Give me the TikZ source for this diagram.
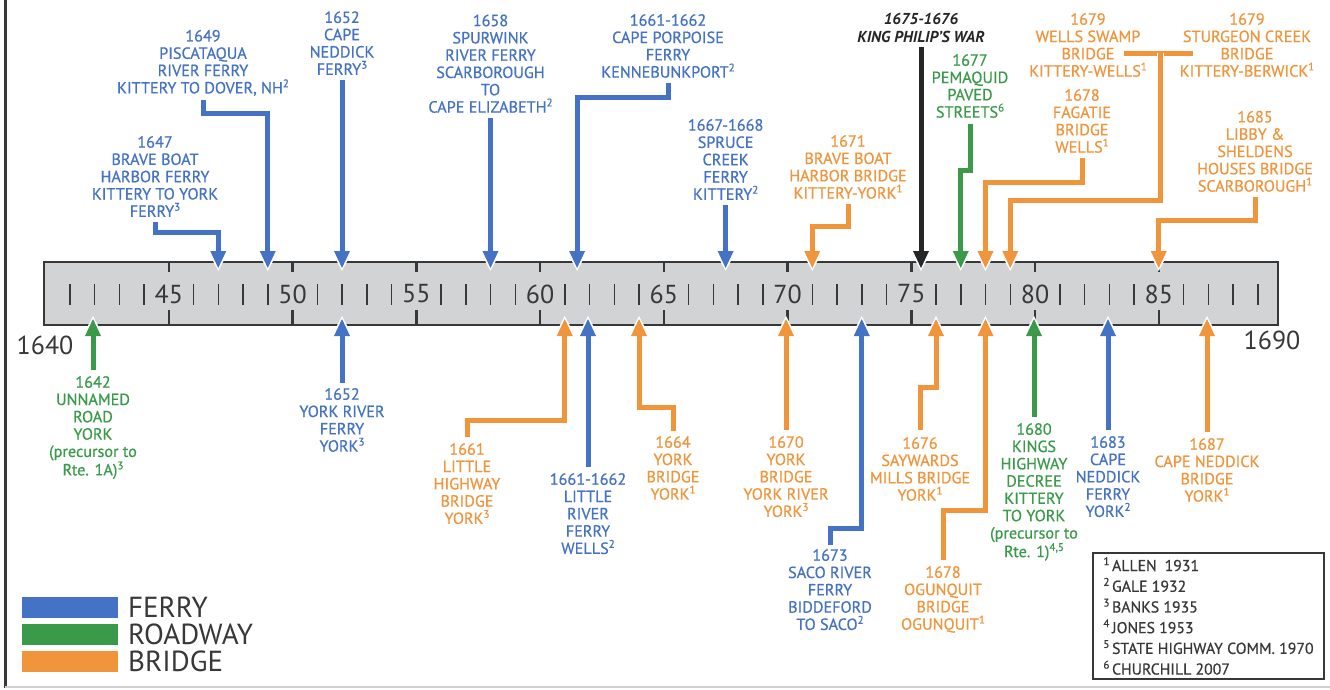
\documentclass[tikz,border=0pt]{standalone}
\usepackage{fontspec}
\setmainfont{PT Sans}
\newfontface\labface{PT Sans}[FakeBold=0.6]
\usetikzlibrary{arrows.meta}
\definecolor{fer}{HTML}{4472C4}
\definecolor{rd}{HTML}{3A9A4A}
\definecolor{brg}{HTML}{F0953B}
\definecolor{ink}{HTML}{383838}
\definecolor{barfill}{HTML}{D1D3D4}
\newcommand\fn[1]{\raisebox{0.38em}{\fontsize{11}{11}\selectfont #1}}
\begin{document}
\begin{tikzpicture}[x=1pt,y=-1pt,
  lab/.style={align=center, inner sep=0pt, font=\labface\fontsize{16.2}{17.3}\selectfont},
  ln/.style={line width=5pt, line join=miter},
  conn/.style={ln, -{Triangle[length=17pt,width=16pt,line width=0pt]},
    preaction={draw=white, line width=7pt, shorten >=-3pt, -{Triangle[length=20pt,width=21pt,line width=0pt]}}},
  big/.style={font=\fontsize{26}{26}\selectfont, text=ink, inner sep=0pt},
  leg/.style={font=\fontsize{29}{29}\selectfont, text=ink, inner sep=0pt, anchor=west},
  key/.style={minimum width=96pt, minimum height=21pt, inner sep=0pt, anchor=north west}
]
\useasboundingbox (0,0) rectangle (1330,689);
\fill[white] (0,0) rectangle (1330,689);
% frame
\draw[ink, line width=3pt] (5,0) -- (5,688);
\draw[black!18, line width=1.5pt] (5,687) -- (1330,687);

% timeline bar
\node[draw=ink, fill=barfill, line width=2.5pt, anchor=north west, minimum width=1234pt, minimum height=63pt, inner sep=0pt, outer sep=0pt] (bar) at (44,262) {};
\foreach \yr/\lb in {5/45,10/50,15/55,20/60,25/65,30/70,35/75,40/80,45/85}{
  \draw[ink, line width=2.5pt] ({45+24.75*\yr},262) -- ++(0,10);
  \draw[ink, line width=2.5pt] ({45+24.75*\yr},310) -- ++(0,15);
  \node[big] (m\lb) at ({45+24.75*\yr},294) {\lb};
}
\foreach \k in {0,...,9}{\foreach \d in {1,2,3,4}{
  \draw[ink, line width=1.5pt] ({45+24.75*(5*\k+\d)},284) -- ++(0,21);
}}
\node[big] (y1640) at (45,345) {1640};
\node[big] (y1690) at (1272,340) {1690};

% ---------- labels above ----------
\node[lab, text=fer, anchor=south] (L1647) at (155,217) {1647\\BRAVE BOAT\\HARBOR FERRY\\KITTERY TO YORK\\FERRY\fn{3}};
\node[lab, text=fer, anchor=south] (L1649) at (203,96) {1649\\PISCATAQUA\\RIVER FERRY\\KITTERY TO DOVER, NH\fn{2}};
\node[lab, text=fer, anchor=south] (L1652a) at (342,75) {1652\\CAPE\\NEDDICK\\FERRY\fn{3}};
\node[lab, text=fer, anchor=south] (L1658) at (490.5,113) {1658\\SPURWINK\\RIVER FERRY\\SCARBOROUGH\\TO\\CAPE ELIZABETH\fn{2}};
\node[lab, text=fer, anchor=south] (L1661c) at (668,78) {1661-1662\\CAPE PORPOISE\\FERRY\\KENNEBUNKPORT\fn{2}};
\node[lab, text=fer, anchor=south] (L1667) at (725.6,200) {1667-1668\\SPRUCE\\CREEK\\FERRY\\KITTERY\fn{2}};
\node[lab, text=brg, anchor=south] (L1671) at (848,199) {1671\\BRAVE BOAT\\HARBOR BRIDGE\\KITTERY-YORK\fn{1}};
\node[lab, text=black!85, anchor=south, font=\fontsize{15.8}{18}\selectfont\bfseries\itshape] (LKPW) at (921,43) {1675-1676\\KING PHILIP’S WAR};
\node[lab, text=rd, anchor=south] (L1677) at (970,118) {1677\\PEMAQUID\\PAVED\\STREETS\fn{6}};
\node[lab, text=brg, anchor=south] (L1678f) at (1082,153) {1678\\FAGATIE\\BRIDGE\\WELLS\fn{1}};
\node[lab, text=brg, anchor=south] (L1679w) at (1088,77) {1679\\WELLS SWAMP\\BRIDGE\\KITTERY-WELLS\fn{1}};
\node[lab, text=brg, anchor=south] (L1679s) at (1247,77) {1679\\STURGEON CREEK\\BRIDGE\\KITTERY-BERWICK\fn{1}};
\node[lab, text=brg, anchor=south] (L1685) at (1255,192) {1685\\LIBBY \&\\SHELDENS\\HOUSES BRIDGE\\SCARBOROUGH\fn{1}};

% ---------- labels below ----------
\node[lab, text=rd, anchor=north] (L1642) at (93,376) {1642\\UNNAMED\\ROAD\\YORK\\(precursor to\\Rte. 1A)\fn{3}};
\node[lab, text=fer, anchor=north] (L1652b) at (342,388) {1652\\YORK RIVER\\FERRY\\YORK\fn{3}};
\node[lab, text=brg, anchor=north] (L1661h) at (467,443) {1661\\LITTLE\\HIGHWAY\\BRIDGE\\YORK\fn{3}};
\node[lab, text=fer, anchor=north] (L1662) at (588,473) {1661-1662\\LITTLE\\RIVER\\FERRY\\WELLS\fn{2}};
\node[lab, text=brg, anchor=north] (L1664) at (673,436) {1664\\YORK\\BRIDGE\\YORK\fn{1}};
\node[lab, text=brg, anchor=north] (L1670) at (786,436) {1670\\YORK\\BRIDGE\\YORK RIVER\\YORK\fn{3}};
\node[lab, text=fer, anchor=north] (L1673) at (830,549) {1673\\SACO RIVER\\FERRY\\BIDDEFORD\\TO SACO\fn{2}};
\node[lab, text=brg, anchor=north] (L1676) at (920,437) {1676\\SAYWARDS\\MILLS BRIDGE\\YORK\fn{1}};
\node[lab, text=brg, anchor=north] (L1678o) at (943,566) {1678\\OGUNQUIT\\BRIDGE\\OGUNQUIT\fn{1}};
\node[lab, text=rd, anchor=north] (L1680) at (1034,423) {1680\\KINGS\\HIGHWAY\\DECREE\\KITTERY\\TO YORK\\(precursor to\\Rte. 1)\fn{4,5}};
\node[lab, text=fer, anchor=north] (L1683) at (1108,436) {1683\\CAPE\\NEDDICK\\FERRY\\YORK\fn{2}};
\node[lab, text=brg, anchor=north] (L1687) at (1207,438) {1687\\CAPE NEDDICK\\BRIDGE\\YORK\fn{1}};

% ---------- targets on the bar ----------
\coordinate (a1647) at (218.25,268);
\coordinate (a1649) at (267.75,268);
\coordinate (a1652a) at (342,268);
\coordinate (a1658) at (490.5,268);
\coordinate (a1661c) at (577.1,268);
\coordinate (a1667) at (725.6,268);
\coordinate (a1671) at (812.25,268);
\coordinate (aKPW) at (921,268);
\coordinate (a1677) at (960.75,268);
\coordinate (a1678f) at (985.5,268);
\coordinate (a1679) at (1010.25,268);
\coordinate (a1685) at (1158.75,268);
\coordinate (a1642) at (93,319);
\coordinate (a1652b) at (342,319);
\coordinate (a1661h) at (564.75,319);
\coordinate (a1662) at (588,319);
\coordinate (a1664) at (639,319);
\coordinate (a1670) at (786,319);
\coordinate (a1673) at (861.75,319);
\coordinate (a1676) at (936,319);
\coordinate (a1678o) at (985.5,319);
\coordinate (a1680) at (1034,319);
\coordinate (a1683) at (1108,319);
\coordinate (a1687) at (1207,319);
% bends
\coordinate (h1647) at (218.25,232);
\coordinate (h1649) at (267.75,113);
\coordinate (h1661c) at (577.1,97);
\coordinate (h1671) at (812.25,226);
\coordinate (h1677) at (960.75,170);
\coordinate (h1678f) at (985.5,182);
\coordinate (h1679) at (1010.25,200);
\coordinate (h1685) at (1158.75,220);
\coordinate (h1661h) at (564.75,420);
\coordinate (h1664) at (639,407);
\coordinate (h1673) at (861.75,528);
\coordinate (h1676) at (936,387);
\coordinate (h1678o) at (985.5,510);
\coordinate (tw) at (1124,53);
\coordinate (ts) at (1193,53);
\coordinate (tj) at (1160,53);

% ---------- connectors above ----------
\draw[conn, fer] ([yshift=-5pt]L1647.south) |- (h1647) -- (a1647);
\draw[conn, fer] ([yshift=-4pt]L1649.south) |- (h1649) -- (a1649);
\draw[conn, fer] ([yshift=-5pt]L1652a.south) -- (a1652a);
\draw[conn, fer] ([yshift=-5pt]L1658.south) -- (a1658);
\draw[conn, fer] ([yshift=-5pt]L1661c.south) |- (h1661c) -- (a1661c);
\draw[conn, fer] ([yshift=-5pt]L1667.south) -- (a1667);
\draw[conn, brg] ([yshift=-5pt]L1671.south) |- (h1671) -- (a1671);
\draw[conn, black!85] ([yshift=-4pt]LKPW.south) -- (aKPW);
\draw[conn, rd] ([yshift=-6pt]L1677.south) |- (h1677) -- (a1677);
\draw[conn, brg] ([yshift=-5pt]L1678f.south) |- (h1678f) -- (a1678f);
\draw[ln, brg] (tw) -- (ts);
\draw[conn, brg] (tj) |- (h1679) -- (a1679);
\draw[conn, brg] ([yshift=-5pt]L1685.south) |- (h1685) -- (a1685);

% ---------- connectors below ----------
\draw[conn, rd] ([yshift=6pt]L1642.north) -- (a1642);
\draw[conn, fer] ([yshift=5pt]L1652b.north) -- (a1652b);
\draw[conn, brg] ([yshift=6pt]L1661h.north) |- (h1661h) -- (a1661h);
\draw[conn, fer] ([yshift=6pt]L1662.north) -- (a1662);
\draw[conn, brg] ([yshift=5pt]L1664.north) |- (h1664) -- (a1664);
\draw[conn, brg] ([yshift=6pt]L1670.north) -- (a1670);
\draw[conn, fer] ([yshift=4pt]L1673.north) |- (h1673) -- (a1673);
\draw[conn, brg] ([yshift=7pt]L1676.north) |- (h1676) -- (a1676);
\draw[conn, brg] ([yshift=6pt]L1678o.north) |- (h1678o) -- (a1678o);
\draw[conn, rd] ([yshift=6pt]L1680.north) -- (a1680);
\draw[conn, fer] ([yshift=6pt]L1683.north) -- (a1683);
\draw[conn, brg] ([yshift=6pt]L1687.north) -- (a1687);

% ---------- legend ----------
\node[key, fill=fer] (kf) at (22,597) {};
\node[key, fill=rd] (kr) at (22,624) {};
\node[key, fill=brg] (kb) at (22,651) {};
\node[leg] (tf) at (128,607.5) {FERRY};
\node[leg] (tr) at (128,634.5) {ROADWAY};
\node[leg] (tb) at (128,661.5) {BRIDGE};

% ---------- references ----------
\node[draw=ink, line width=2pt, anchor=north west, minimum width=231pt, minimum height=126pt,
      align=left, text=ink, font=\labface\fontsize{15.8}{20.7}\selectfont, inner sep=0pt] (refs) at (1092,552)
  {\fn{1}\,ALLEN\enspace1931\\\fn{2}\,GALE 1932\\\fn{3}\,BANKS 1935\\\fn{4}\,JONES 1953\\\fn{5}\,STATE HIGHWAY COMM. 1970\\\fn{6}\,CHURCHILL 2007};
\end{tikzpicture}
\end{document}
